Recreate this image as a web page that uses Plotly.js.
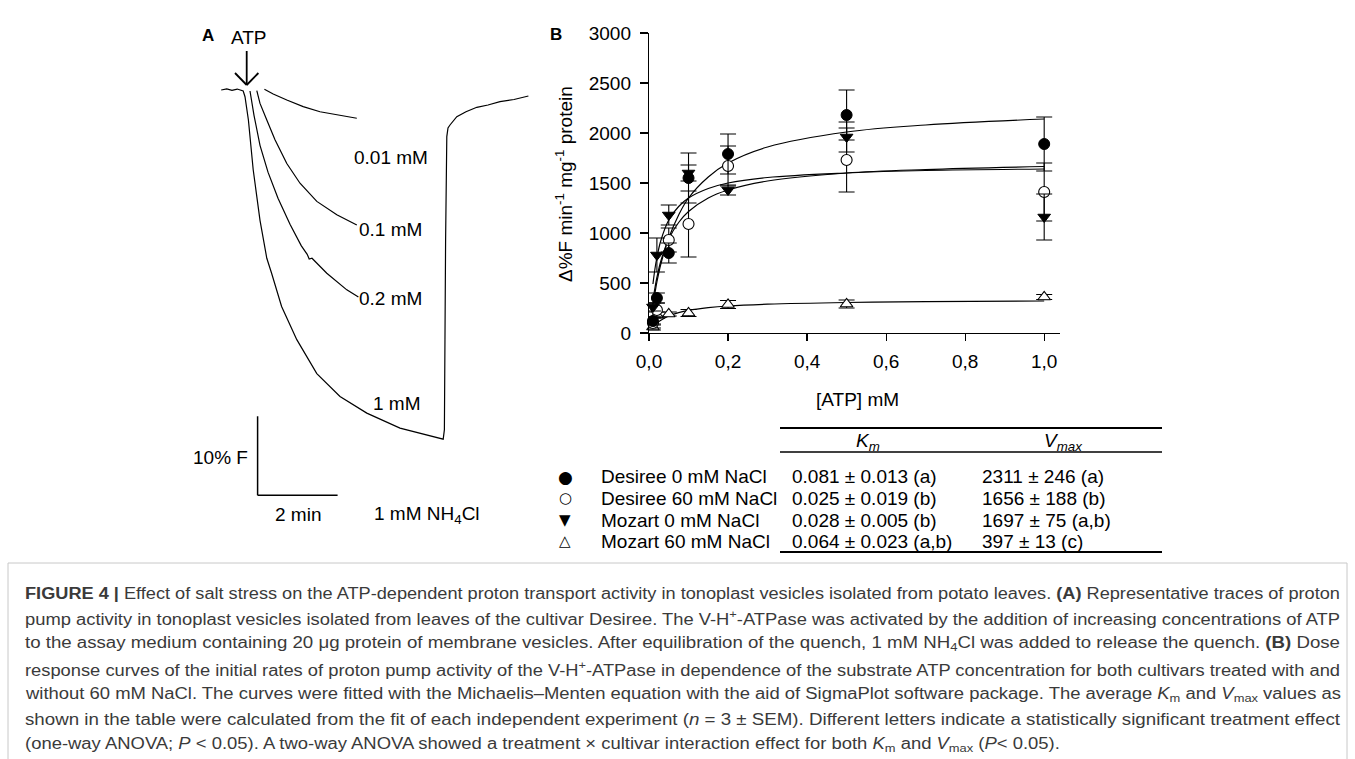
<!DOCTYPE html>
<html>
<head>
<meta charset="utf-8">
<script src="https://cdn.plot.ly/plotly-3.0.1.min.js"></script>
<style>
  html, body { margin: 0; padding: 0; background: #fff; }
  #chart { width: 1355px; height: 759px; }
</style>
</head>
<body>
<div id="chart"></div>
<script>
// ---------------- Panel B data ----------------
const atpConc = [0.01, 0.02, 0.05, 0.1, 0.2, 0.5, 1.0];
const desiree0 = [120, 350, 800, 1550, 1790, 2180, 1890];
const desiree0Err = [40, 50, 100, 250, 200, 250, 270];
const desiree60 = [100, 230, 930, 1090, 1670, 1730, 1410];
const desiree60Err = [50, 70, 120, 330, 200, 320, 290];
const mozart0 = [260, 780, 1180, 1600, 1430, 1960, 1160];
const mozart0Err = [40, 170, 100, 80, 50, 150, 230];
const mozart60 = [60, 180, 190, 200, 285, 290, 360];
const mozart60Err = [30, 30, 20, 35, 40, 40, 25];

// fitted (Michaelis-Menten) curves
const fitX = [0.01, 0.015, 0.02, 0.03, 0.05, 0.075, 0.1, 0.15, 0.2, 0.3, 0.5, 0.7, 1.0];
const fitDesiree0 = [290, 400, 510, 690, 950, 1180, 1350, 1560, 1700, 1860, 2010, 2080, 2140];
const fitDesiree60 = [490, 640, 755, 925, 1130, 1265, 1350, 1445, 1500, 1555, 1600, 1625, 1640];
const fitMozart0 = [330, 450, 555, 720, 940, 1105, 1215, 1350, 1430, 1520, 1600, 1635, 1665];
const fitMozart60 = [57, 79, 98, 128, 170, 203, 226, 253, 270, 288, 305, 313, 320];

const xTickVals = [0, 0.2, 0.4, 0.6, 0.8, 1.0];
const xTickText = ['0,0', '0,2', '0,4', '0,6', '0,8', '1,0'];
const yTickVals = [0, 500, 1000, 1500, 2000, 2500, 3000];
const yTickText = ['0', '500', '1000', '1500', '2000', '2500', '3000'];

// ---------------- Panel A data (time in min, fluorescence change in %) ----------------
const trace1mM_t = [1.28, 1.42, 1.55, 1.68, 1.83, 1.875, 1.96, 2.08, 2.25, 2.42, 2.54, 2.79, 3.17, 3.67, 4.25, 4.92, 5.75, 6.83,
                    6.86, 6.875, 6.89, 6.92, 6.95, 7.0, 7.17, 7.4, 7.67, 7.95, 8.25, 8.6, 8.96];
const trace1mM_F = [0, 0.15, -0.05, 0.12, -0.13, -0.85, -3.8, -10.1, -16.5, -21.3, -23.2, -27.4, -31.6, -35.9, -38.8, -40.9, -42.8, -44.2,
                    -43.0, -26.6, -19.0, -5.9, -4.8, -4.43, -3.38, -2.75, -2.19, -1.9, -1.48, -1.2, -0.76];
const trace02_t = [2.0, 2.1, 2.25, 2.45, 2.7, 3.0, 3.28, 3.43, 3.48, 3.55, 3.92, 4.42, 4.71];
const trace02_F = [-0.13, -3.2, -7.0, -10.4, -13.7, -17.0, -19.7, -20.8, -21.4, -21.3, -23.2, -25.3, -26.2];
const trace01_t = [2.17, 2.25, 2.42, 2.625, 2.92, 3.25, 3.67, 4.17, 4.67];
const trace01_F = [-0.09, -1.7, -3.8, -6.3, -9.3, -11.8, -14.1, -15.8, -17.1];
const trace001_t = [2.36, 2.58, 2.92, 3.33, 3.75, 4.17, 4.67];
const trace001_F = [0.09, -0.5, -1.27, -2.1, -2.75, -3.16, -3.58];
const traceLabels = ['0.01 mM', '0.1 mM', '0.2 mM', '1 mM'];

// scale bar (min, %F)
const scaleBarTime = 2;
const scaleBarF = 10;

// ---------------- Table ----------------
const groups = ['Desiree 0 mM NaCl', 'Desiree 60 mM NaCl', 'Mozart 0 mM NaCl', 'Mozart 60 mM NaCl'];
const groupSymbols = ['●', '○', '▼', '△'];
const kmVals = ['0.081 ± 0.013 (a)', '0.025 ± 0.019 (b)', '0.028 ± 0.005 (b)', '0.064 ± 0.023 (a,b)'];
const vmaxVals = ['2311 ± 246 (a)', '1656 ± 188 (b)', '1697 ± 75 (a,b)', '397 ± 13 (c)'];

// ---------------- Caption ----------------
const captionLines = [
  '<b>FIGURE 4 |</b> Effect of salt stress on the ATP-dependent proton transport activity in tonoplast vesicles isolated from potato leaves. <b>(A)</b> Representative traces of proton',
  'pump activity in tonoplast vesicles isolated from leaves of the cultivar Desiree. The V-H<sup>+</sup>-ATPase was activated by the addition of increasing concentrations of ATP',
  'to the assay medium containing 20 μg protein of membrane vesicles. After equilibration of the quench, 1 mM NH<sub>4</sub>Cl was added to release the quench. <b>(B)</b> Dose',
  'response curves of the initial rates of proton pump activity of the V-H<sup>+</sup>-ATPase in dependence of the substrate ATP concentration for both cultivars treated with and',
  'without 60 mM NaCl. The curves were fitted with the Michaelis–Menten equation with the aid of SigmaPlot software package. The average <i>K</i><sub>m</sub> and <i>V</i><sub>max</sub> values as',
  'shown in the table were calculated from the fit of each independent experiment (<i>n</i> = 3 ± SEM). Different letters indicate a statistically significant treatment effect',
  '(one-way ANOVA; <i>P</i> < 0.05). A two-way ANOVA showed a treatment × cultivar interaction effect for both <i>K</i><sub>m</sub> and <i>V</i><sub>max</sub> (<i>P</i>< 0.05).'
];

// ---------------- helpers ----------------
const W = 1355, H = 759;
const PX = x => x / W;
const PY = y => 1 - y / H;
const FONT = 'Liberation Sans, Arial, Helvetica, sans-serif';

function errBar(arr) {
  return {type: 'data', array: arr, visible: true, color: '#000', thickness: 1.1, width: 8};
}

const traces = [];
// fits
[fitDesiree0, fitDesiree60, fitMozart0, fitMozart60].forEach(f => {
  traces.push({x: fitX, y: f, type: 'scatter', mode: 'lines', line: {color: '#000', width: 1.2, shape: 'spline'},
    hoverinfo: 'skip', xaxis: 'x', yaxis: 'y', cliponaxis: false});
});
// data points
traces.push({x: atpConc, y: mozart60, error_y: errBar(mozart60Err), type: 'scatter', mode: 'markers', cliponaxis: false,
  marker: {symbol: 'triangle-up', size: 11, color: '#fff', line: {color: '#000', width: 1.1}}});
traces.push({x: atpConc, y: desiree60, error_y: errBar(desiree60Err), type: 'scatter', mode: 'markers', cliponaxis: false,
  marker: {symbol: 'circle', size: 11, color: '#fff', line: {color: '#000', width: 1.1}}});
traces.push({x: atpConc, y: mozart0, error_y: errBar(mozart0Err), type: 'scatter', mode: 'markers', cliponaxis: false,
  marker: {symbol: 'triangle-down', size: 11, color: '#000', line: {color: '#000', width: 1}}});
traces.push({x: atpConc, y: desiree0, error_y: errBar(desiree0Err), type: 'scatter', mode: 'markers', cliponaxis: false,
  marker: {symbol: 'circle', size: 11, color: '#000', line: {color: '#000', width: 1}}});

// Panel A traces
[[trace1mM_t, trace1mM_F], [trace02_t, trace02_F], [trace01_t, trace01_F], [trace001_t, trace001_F]].forEach(p => {
  traces.push({x: p[0], y: p[1], type: 'scatter', mode: 'lines', xaxis: 'x2', yaxis: 'y2',
    line: {color: '#000', width: 1.2}, hoverinfo: 'skip'});
});

const annotations = [];
function txt(text, x, y, opts) {
  annotations.push(Object.assign({
    text: text, x: PX(x), y: PY(y), xref: 'paper', yref: 'paper', showarrow: false,
    xanchor: 'left', yanchor: 'middle', align: 'left',
    font: {family: FONT, size: 19, color: '#000'}
  }, opts || {}));
}

// Panel labels
txt('<b>A</b>', 208, 36, {xanchor: 'center', font: {family: FONT, size: 17, color: '#000'}});
txt('<b>B</b>', 556, 35, {xanchor: 'center', font: {family: FONT, size: 17, color: '#000'}});
// Panel A texts
txt('ATP', 249, 38, {xanchor: 'center'});
txt(traceLabels[0], 352, 157);
txt(traceLabels[1], 357, 230);
txt(traceLabels[2], 357, 298);
txt(traceLabels[3], 371, 404);
txt(scaleBarF + '% F', 250, 457, {xanchor: 'right'});
txt(scaleBarTime + ' min', 298, 514, {xanchor: 'center'});
txt('1 mM NH<sub>4</sub>Cl', 372, 515);

// Panel B axis titles
txt('Δ%F min<sup>-1</sup> mg<sup>-1</sup> protein', 564, 184, {xanchor: 'center', textangle: -90});
txt('[ATP] mM', 857, 399, {xanchor: 'center'});

// Table
const rowY = [476.7, 498.3, 520, 541];
txt('<i>K<sub>m</sub></i>', 868, 442, {xanchor: 'center'});
txt('<i>V<sub>max</sub></i>', 1063, 442, {xanchor: 'center'});
groups.forEach((g, i) => {
  txt(groupSymbols[i], 565, rowY[i], {xanchor: 'center', font: {family: 'DejaVu Sans, sans-serif', size: i === 0 ? 17 : 15, color: '#000'}});
  txt(g, 599, rowY[i]);
  txt(kmVals[i], 790, rowY[i]);
  txt(vmaxVals[i], 980, rowY[i]);
});

// Caption
const capStart = annotations.length;
captionLines.forEach((l, i) => {
  txt(l, 23, 593 + i * 25.3, {font: {family: FONT, size: 16, color: '#3a3a3a'}});
});

const shapes = [
  // ATP arrow
  {type: 'line', xref: 'paper', yref: 'paper', x0: PX(246.7), y0: PY(51), x1: PX(246.7), y1: PY(85), line: {color: '#000', width: 1.8}},
  {type: 'line', xref: 'paper', yref: 'paper', x0: PX(235), y0: PY(73), x1: PX(246.7), y1: PY(85), line: {color: '#000', width: 1.8}},
  {type: 'line', xref: 'paper', yref: 'paper', x0: PX(258.4), y0: PY(73), x1: PX(246.7), y1: PY(85), line: {color: '#000', width: 1.8}},
  // scale bar (in trace units)
  {type: 'line', xref: 'x2', yref: 'y2', x0: 2.19, y0: -51.3, x1: 2.19, y1: -51.3 + scaleBarF, line: {color: '#000', width: 1.5}},
  {type: 'line', xref: 'x2', yref: 'y2', x0: 2.19, y0: -51.3, x1: 2.19 + scaleBarTime, y1: -51.3, line: {color: '#000', width: 1.5}},
  // table rules
  {type: 'line', xref: 'paper', yref: 'paper', x0: PX(780), y0: PY(428), x1: PX(1162), y1: PY(428), line: {color: '#000', width: 1.8}},
  {type: 'line', xref: 'paper', yref: 'paper', x0: PX(780), y0: PY(452), x1: PX(1162), y1: PY(452), line: {color: '#000', width: 1.3}},
  {type: 'line', xref: 'paper', yref: 'paper', x0: PX(780), y0: PY(552), x1: PX(1162), y1: PY(552), line: {color: '#000', width: 1.8}},
  // caption frame
  {type: 'rect', xref: 'paper', yref: 'paper', x0: PX(8), y0: PY(563), x1: PX(1347), y1: PY(775), line: {color: '#c8c8c8', width: 1}}
];

const layout = {
  width: W, height: H,
  margin: {l: 0, r: 0, t: 0, b: 0},
  paper_bgcolor: '#fff', plot_bgcolor: 'rgba(0,0,0,0)',
  showlegend: false,
  font: {family: FONT, color: '#000'},
  xaxis: {
    domain: [PX(649), PX(1060)], range: [0, 1.04], anchor: 'y',
    showline: true, linecolor: '#000', linewidth: 1.2, mirror: false,
    ticks: 'outside', ticklen: 7, tickwidth: 1.2, tickcolor: '#000', ticklabelstandoff: 4,
    tickvals: xTickVals, ticktext: xTickText, tickfont: {family: FONT, size: 19, color: '#000'},
    showgrid: false, zeroline: false
  },
  yaxis: {
    domain: [PY(333), PY(33)], range: [0, 3000], anchor: 'x',
    showline: true, linecolor: '#000', linewidth: 1.2,
    ticks: 'outside', ticklen: 8, tickwidth: 1.2, tickcolor: '#000', ticklabelstandoff: 5,
    tickvals: yTickVals, ticktext: yTickText, tickfont: {family: FONT, size: 19, color: '#000'},
    showgrid: false, zeroline: false
  },
  xaxis2: {domain: [PX(170), PX(540)], range: [0, 9.25], anchor: 'y2', visible: false, showgrid: false, zeroline: false},
  yaxis2: {domain: [PY(520), PY(20)], range: [-54.43, 8.86], anchor: 'x2', visible: false, showgrid: false, zeroline: false},
  annotations: annotations,
  shapes: shapes
};

Plotly.newPlot('chart', traces, layout, {staticPlot: true, displayModeBar: false}).then(() => {
  // justify caption lines (1-6) to the full text width like the printed figure
  const target = 1338 - 23;
  const factors = [];
  const els = [];
  for (let i = 0; i < captionLines.length; i++) {
    els.push(document.querySelector('.annotation[data-index="' + (capStart + i) + '"] text.annotation-text'));
  }
  els.forEach((el, i) => {
    if (!el) return;
    const w = el.getComputedTextLength();
    if (i < captionLines.length - 1) {
      factors.push(target / w);
      el.setAttribute('textLength', target);
      el.setAttribute('lengthAdjust', 'spacingAndGlyphs');
    }
  });
  const last = els[els.length - 1];
  if (last && factors.length) {
    const f = factors.reduce((a, b) => a + b, 0) / factors.length;
    last.setAttribute('textLength', last.getComputedTextLength() * f);
    last.setAttribute('lengthAdjust', 'spacingAndGlyphs');
  }
});
</script>
</body>
</html>
